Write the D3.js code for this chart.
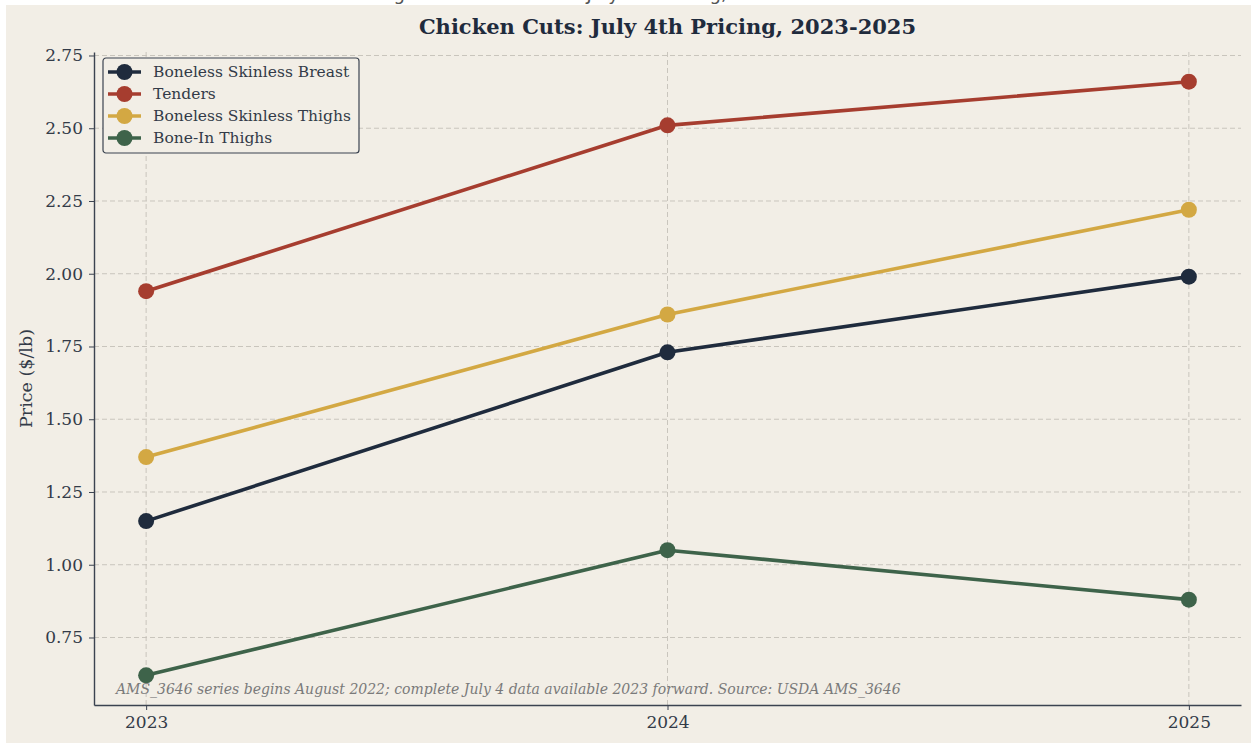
<!DOCTYPE html>
<html>
<head>
<meta charset="utf-8">
<script src="https://cdn.jsdelivr.net/npm/d3@7"></script>
<style>
  html, body { margin: 0; padding: 0; background: #ffffff; }
  svg { display: block; }
</style>
</head>
<body>
<div id="chart"></div>
<script>
// chart data
const years = [2023, 2024, 2025];
const seriesNames = ["Boneless Skinless Breast", "Tenders", "Boneless Skinless Thighs", "Bone-In Thighs"];
const breast = [1.15, 1.73, 1.99];
const tenders = [1.94, 2.51, 2.66];
const bsThighs = [1.37, 1.86, 2.22];
const boneInThighs = [0.62, 1.05, 0.88];
const yTicks = [0.75, 1.00, 1.25, 1.50, 1.75, 2.00, 2.25, 2.50, 2.75];
const colors = ["#1f2b3d", "#a63d2f", "#d3a843", "#3e634a"];

const title = "Chicken Cuts: July 4th Pricing, 2023-2025";
const supTitle = "Figure 1: Chicken Cuts July 4th Pricing, 2023-2025";
const note = "AMS_3646 series begins August 2022; complete July 4 data available 2023 forward. Source: USDA AMS_3646";

const W = 1251, H = 743;
const margin = { top: 52, right: 10, bottom: 38, left: 94 };
const width = 1241 - margin.left;
const height = 705 - margin.top;

const svg = d3.select("#chart").append("svg")
    .attr("width", W)
    .attr("height", H);

// beige figure background with a thin white strip on top / left
svg.append("rect").attr("x", 6).attr("y", 5).attr("width", W - 6).attr("height", H - 5)
    .attr("fill", "#f2eee6");

// header text, mostly hidden above the figure (only descenders peek out)
svg.append("text")
    .attr("x", 605).attr("y", -0.5)
    .attr("text-anchor", "middle")
    .style("font-family", "'DejaVu Sans', sans-serif")
    .style("font-size", "18px")
    .style("fill", "#555")
    .text(supTitle);
svg.append("rect").attr("x", 6).attr("y", 5).attr("width", W - 6).attr("height", 10).attr("fill", "#f2eee6");

const g = svg.append("g").attr("transform", `translate(${margin.left},${margin.top})`);

const x = d3.scaleLinear()
    .domain([2023 - 0.1, 2025 + 0.1])
    .range([0, width]);

const lo = 0.62, hi = 2.66, pad = (hi - lo) * 0.05;
const y = d3.scaleLinear()
    .domain([lo - pad, hi + pad])
    .range([height, 0]);

// grid
g.append("g").selectAll("line.hg")
    .data(yTicks).enter().append("line")
    .attr("x1", 0).attr("x2", width)
    .attr("y1", d => y(d)).attr("y2", d => y(d))
    .attr("stroke", "#c9c5bd").attr("stroke-width", 1).attr("stroke-dasharray", "5,3");
g.append("g").selectAll("line.vg")
    .data(years).enter().append("line")
    .attr("y1", 0).attr("y2", height)
    .attr("x1", d => x(d)).attr("x2", d => x(d))
    .attr("stroke", "#c9c5bd").attr("stroke-width", 1).attr("stroke-dasharray", "5,3");

// axes
const axisColor = "#3b4350";
const yAxis = g.append("g")
    .call(d3.axisLeft(y).tickValues(yTicks).tickFormat(d3.format(".2f"))
        .tickSizeInner(5).tickSizeOuter(0).tickPadding(6));
const xAxis = g.append("g")
    .attr("transform", `translate(0,${height})`)
    .call(d3.axisBottom(x).tickValues(years).tickFormat(d3.format("d"))
        .tickSizeInner(5).tickSizeOuter(0).tickPadding(6));

[xAxis, yAxis].forEach(a => {
    a.select(".domain").attr("stroke", axisColor).attr("stroke-width", 1.4);
    a.selectAll(".tick line").attr("stroke", axisColor).attr("stroke-width", 1);
    a.selectAll(".tick text")
        .style("font-family", "'DejaVu Serif', serif")
        .style("font-size", "17px")
        .style("fill", "#333b48");
});

// y label
g.append("text")
    .attr("transform", `translate(${26 - margin.left},${height / 2}) rotate(-90)`)
    .attr("text-anchor", "middle")
    .attr("dy", "0.35em")
    .style("font-family", "'DejaVu Serif', serif")
    .style("font-size", "17.5px")
    .style("fill", "#333b48")
    .text("Price ($/lb)");

// title
svg.append("text")
    .attr("x", margin.left + width / 2)
    .attr("y", 34)
    .attr("text-anchor", "middle")
    .style("font-family", "'DejaVu Serif', serif")
    .style("font-weight", "bold")
    .style("font-size", "21px")
    .style("fill", "#1f2b3d")
    .text(title);

// lines
const allSeries = [breast, tenders, bsThighs, boneInThighs];
const line = d3.line()
    .x((d, i) => x(years[i]))
    .y(d => y(d));

allSeries.forEach((vals, k) => {
    g.append("path")
        .datum(vals)
        .attr("d", line)
        .attr("fill", "none")
        .attr("stroke", colors[k])
        .attr("stroke-width", 3.6)
        .attr("stroke-linejoin", "round");
    g.selectAll(null)
        .data(vals).enter().append("circle")
        .attr("cx", (d, i) => x(years[i]))
        .attr("cy", d => y(d))
        .attr("r", 8)
        .attr("fill", colors[k]);
});

// footnote
g.append("text")
    .attr("x", 116 - margin.left)
    .attr("y", 694 - margin.top)
    .style("font-family", "'DejaVu Serif', serif")
    .style("font-style", "italic")
    .style("font-size", "14px")
    .style("fill", "#7a7a7a")
    .text(note);

// legend
const legend = svg.append("g").attr("transform", "translate(103,58)");
legend.append("rect")
    .attr("width", 256).attr("height", 95)
    .attr("rx", 3)
    .attr("fill", "#f2eee6")
    .attr("stroke", "#3b4350")
    .attr("stroke-width", 1.2);
seriesNames.forEach((name, k) => {
    const ly = 14 + k * 22;
    legend.append("line")
        .attr("x1", 5).attr("x2", 38).attr("y1", ly).attr("y2", ly)
        .attr("stroke", colors[k]).attr("stroke-width", 3.6);
    legend.append("circle")
        .attr("cx", 21.5).attr("cy", ly).attr("r", 8)
        .attr("fill", colors[k]);
    legend.append("text")
        .attr("x", 50).attr("y", ly)
        .attr("dy", "0.35em")
        .style("font-family", "'DejaVu Serif', serif")
        .style("font-size", "15.5px")
        .style("fill", "#333b48")
        .text(name);
});
</script>
</body>
</html>
